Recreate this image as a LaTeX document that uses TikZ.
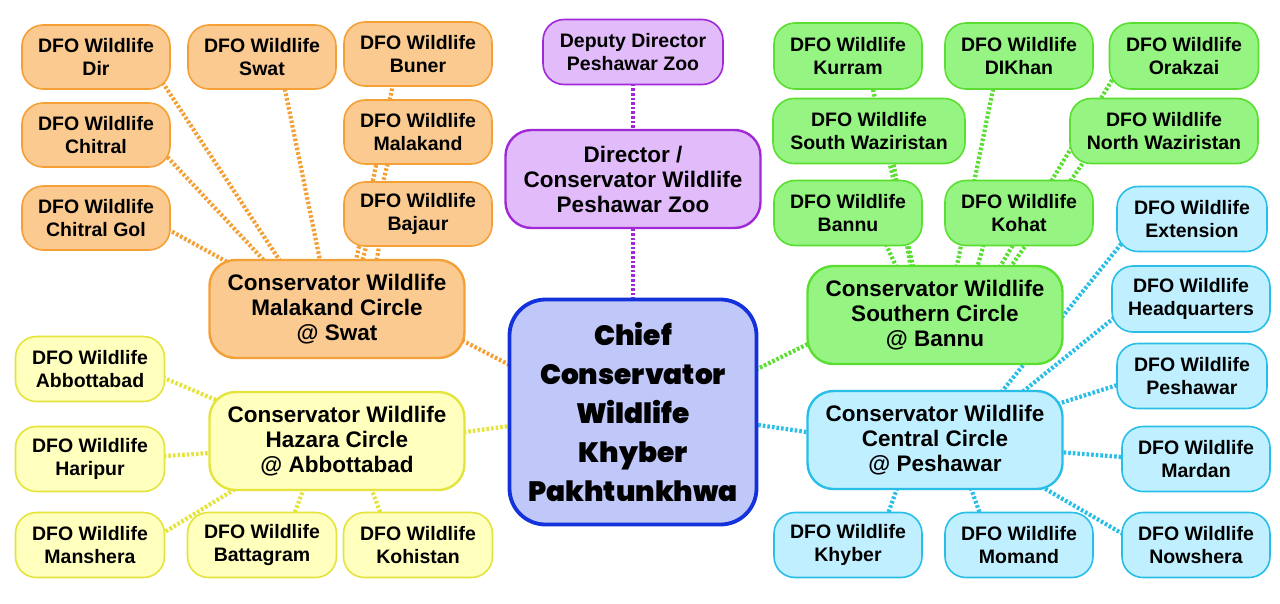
\documentclass[tikz,border=0pt]{standalone}
\usepackage{fontspec}
\setmainfont{Liberation Sans}
\IfFontExistsTF{Poppins Black}{\newfontfamily\heavyraw{Poppins Black}\newcommand\heavyfont{\heavyraw}}{\newfontfamily\heavyraw{Poppins}\newcommand\heavyfont{\heavyraw\bfseries}}
\usetikzlibrary{calc,backgrounds}
\definecolor{ofill}{RGB}{250,202,145}
\definecolor{oline}{RGB}{245,160,55}
\definecolor{pfill}{RGB}{226,187,250}
\definecolor{pline}{RGB}{160,40,215}
\definecolor{cfill}{RGB}{192,200,250}
\definecolor{cline}{RGB}{20,50,220}
\definecolor{yfill}{RGB}{255,255,190}
\definecolor{yline}{RGB}{228,228,60}
\definecolor{gfill}{RGB}{150,245,130}
\definecolor{gline}{RGB}{90,222,50}
\definecolor{bfill}{RGB}{192,240,255}
\definecolor{bline}{RGB}{40,190,232}
\newcommand\dfofont{\fontsize{19.5}{23}\selectfont\bfseries}
\newcommand\circfont{\fontsize{22.5}{25}\selectfont\bfseries}
\newcommand\chieffont{\fontsize{28}{39}\selectfont\heavyfont}
\tikzset{
  dfo/.style={draw, line width=1.6pt, rounded corners=21pt, minimum width=148pt, minimum height=64pt, align=center, font=\dfofont, inner sep=2pt},
  circbox/.style={draw, line width=2.4pt, rounded corners=26pt, minimum width=255pt, minimum height=98pt, align=center, font=\circfont, inner sep=2pt},
  og/.style={fill=ofill, draw=oline},
  pg/.style={fill=pfill, draw=pline},
  yg/.style={fill=yfill, draw=yline},
  gg/.style={fill=gfill, draw=gline},
  bg/.style={fill=bfill, draw=bline},
  conn/.style={line width=4.2pt, dash pattern=on 2.6pt off 2pt},
  oc/.style={conn, draw=oline},
  pc/.style={conn, draw=pline},
  yc/.style={conn, draw=yline},
  gc/.style={conn, draw=gline},
  bc/.style={conn, draw=bline},
}
\begin{document}
\begin{tikzpicture}[x=1pt,y=-1pt]
\useasboundingbox (0,0) rectangle (1280,603);
% centre
\node[draw=cline, fill=cfill, line width=3.8pt, rounded corners=36pt, minimum width=247pt, minimum height=225pt, align=center, font=\chieffont, inner sep=2pt] (chief) at (633,412) {Chief\\Conservator\\Wildlife\\Khyber\\Pakhtunkhwa};
% purple
\node[dfo, pg, minimum width=180pt, minimum height=65pt] (deputy) at (633,52) {Deputy Director\\Peshawar Zoo};
\node[circbox, pg] (director) at (633,179) {Director /\\Conservator Wildlife\\Peshawar Zoo};
% orange
\node[circbox, og] (mc) at (337,309) {Conservator Wildlife\\Malakand Circle\\@ Swat};
\node[dfo, og] (dir) at (96,57) {DFO Wildlife\\Dir};
\node[dfo, og] (swat) at (262,57) {DFO Wildlife\\Swat};
\node[dfo, og] (buner) at (418,54) {DFO Wildlife\\Buner};
\node[dfo, og] (chitral) at (96,135) {DFO Wildlife\\Chitral};
\node[dfo, og] (malakand) at (418,132) {DFO Wildlife\\Malakand};
\node[dfo, og] (chitralgol) at (96,218) {DFO Wildlife\\Chitral Gol};
\node[dfo, og] (bajaur) at (418,214) {DFO Wildlife\\Bajaur};
% yellow
\node[circbox, yg] (hazara) at (337,441) {Conservator Wildlife\\Hazara Circle\\@ Abbottabad};
\node[dfo, yg, minimum width=149pt, minimum height=65pt] (abbott) at (90,369) {DFO Wildlife\\Abbottabad};
\node[dfo, yg, minimum width=149pt, minimum height=65pt] (haripur) at (90,459) {DFO Wildlife\\Haripur};
\node[dfo, yg, minimum width=149pt, minimum height=65pt] (manshera) at (90,545) {DFO Wildlife\\Manshera};
\node[dfo, yg, minimum width=149pt, minimum height=65pt] (battagram) at (262,545) {DFO Wildlife\\Battagram};
\node[dfo, yg, minimum width=149pt, minimum height=65pt] (kohistan) at (418,545) {DFO Wildlife\\Kohistan};
% green
\node[circbox, gg] (southern) at (935,315) {Conservator Wildlife\\Southern Circle\\@ Bannu};
\node[dfo, gg, minimum height=66pt] (kurram) at (848,56) {DFO Wildlife\\Kurram};
\node[dfo, gg, minimum height=66pt] (dikhan) at (1019,56) {DFO Wildlife\\DIKhan};
\node[dfo, gg, minimum width=149pt, minimum height=66pt] (orakzai) at (1184,56) {DFO Wildlife\\Orakzai};
\node[dfo, gg, minimum width=192pt, minimum height=65pt] (swaz) at (869,131) {DFO Wildlife\\South Waziristan};
\node[dfo, gg, minimum width=188pt, minimum height=65pt] (nwaz) at (1164,131) {DFO Wildlife\\North Waziristan};
\node[dfo, gg, minimum height=65pt] (bannu) at (848,213) {DFO Wildlife\\Bannu};
\node[dfo, gg, minimum height=65pt] (kohat) at (1019,213) {DFO Wildlife\\Kohat};
% blue
\node[circbox, bg] (central) at (935,440) {Conservator Wildlife\\Central Circle\\@ Peshawar};
\node[dfo, bg, minimum width=150pt, minimum height=65pt] (extension) at (1192,219) {DFO Wildlife\\Extension};
\node[dfo, bg, minimum width=158pt, minimum height=66pt] (hq) at (1191,299) {DFO Wildlife\\Headquarters};
\node[dfo, bg, minimum width=150pt, minimum height=65pt] (peshawar) at (1192,376) {DFO Wildlife\\Peshawar};
\node[dfo, bg, minimum width=148pt, minimum height=65pt] (mardan) at (1196,459) {DFO Wildlife\\Mardan};
\node[dfo, bg, minimum width=148pt, minimum height=65pt] (nowshera) at (1196,545) {DFO Wildlife\\Nowshera};
\node[dfo, bg, minimum height=65pt] (khyber) at (848,545) {DFO Wildlife\\Khyber};
\node[dfo, bg, minimum height=65pt] (momand) at (1019,545) {DFO Wildlife\\Momand};
\begin{scope}[on background layer]
\fill[white] (0,0) rectangle (1280,603);
% orange
\draw[oc] ($(dir)+(59,14)$) -- ($(mc)+(-51,-39)$);
\draw[oc] ($(swat)+(21,23)$) -- ($(mc)+(-15,-39)$);
\draw[oc] ($(chitral)+(62,12)$) -- ($(mc)+(-64,-39)$);
\draw[oc] ($(chitralgol)+(64,7)$) -- ($(mc)+(-97,-40)$);
\draw[oc] ($(buner)+(-23,21)$) -- ($(mc)+(17,-39)$);
\draw[oc] ($(malakand)+(-28,23)$) -- ($(mc)+(23,-39)$);
\draw[oc] ($(bajaur)+(-37,21)$) -- ($(mc)+(38,-39)$);
\draw[oc] ($(mc)+(113,25)$) -- ($(chief)+(-108,-39)$);
% purple
\draw[pc] ($(deputy)+(0,18)$) -- ($(director)+(0,-29)$);
\draw[pc] ($(director)+(0,31)$) -- ($(chief)+(0,-92)$);
% yellow
\draw[yc] ($(abbott)+(60,3)$) -- ($(hazara)+(-107,-35)$);
\draw[yc] ($(haripur)+(60,-2)$) -- ($(hazara)+(-112,11)$);
\draw[yc] ($(manshera)+(60,-4)$) -- ($(hazara)+(-92,42)$);
\draw[yc] ($(battagram)+(28,-20)$) -- ($(hazara)+(-30,39)$);
\draw[yc] ($(kohistan)+(-33,-20)$) -- ($(hazara)+(31,39)$);
\draw[yc] ($(hazara)+(113,-7)$) -- ($(chief)+(-108,12)$);
% green
\draw[gc] ($(kurram)+(24,29)$) -- ($(southern)+(-20,-40)$);
\draw[gc] ($(swaz)+(24,29)$) -- ($(southern)+(-23,-40)$);
\draw[gc] ($(bannu)+(36,27)$) -- ($(southern)+(-35,-40)$);
\draw[gc] ($(dikhan)+(-24,24)$) -- ($(southern)+(20,-40)$);
\draw[gc] ($(kohat)+(-34,27)$) -- ($(southern)+(40,-40)$);
\draw[gc] ($(orakzai)+(-72,24)$) -- ($(southern)+(60,-40)$);
\draw[gc] ($(nwaz)+(-79,29)$) -- ($(southern)+(70,-40)$);
\draw[gc] ($(southern)+(-115,23)$) -- ($(chief)+(112,-37)$);
% blue
\draw[bc] ($(extension)+(-62,14)$) -- ($(central)+(60,-40)$);
\draw[bc] ($(hq)+(-66,10)$) -- ($(central)+(80,-42)$);
\draw[bc] ($(peshawar)+(-62,5)$) -- ($(central)+(110,-32)$);
\draw[bc] ($(mardan)+(-61,-1)$) -- ($(central)+(110,11)$);
\draw[bc] ($(nowshera)+(-61,-4)$) -- ($(central)+(95,40)$);
\draw[bc] ($(khyber)+(36,-20)$) -- ($(central)+(-35,40)$);
\draw[bc] ($(momand)+(-35,-20)$) -- ($(central)+(33,40)$);
\draw[bc] ($(central)+(-115,-6)$) -- ($(chief)+(112,11)$);
\end{scope}
\end{tikzpicture}
\end{document}
